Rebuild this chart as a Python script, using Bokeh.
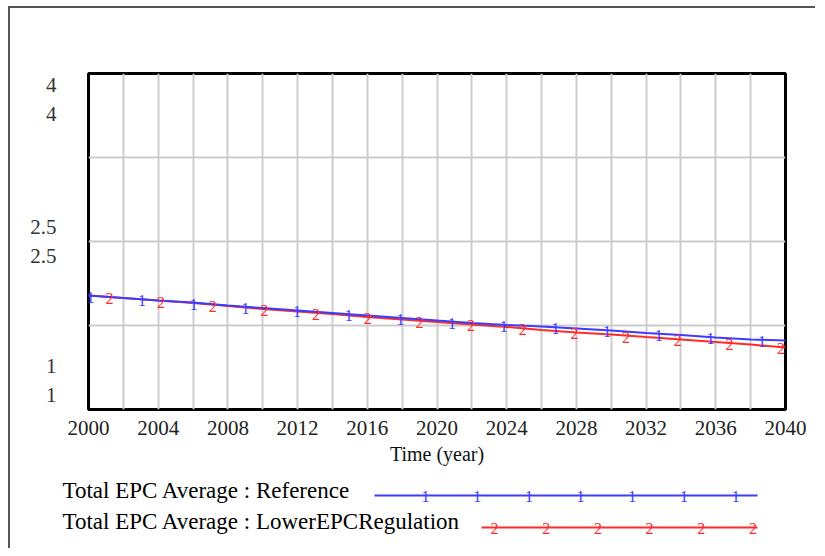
import numpy as np
from bokeh.plotting import figure
from bokeh.layouts import column
from bokeh.models import FixedTicker, Range1d, CustomJSTickFormatter, Label
from bokeh.embed import file_html
from bokeh.resources import INLINE

# ---------------- data ----------------
years = list(range(2000, 2041, 2))
reference = [2.018, 1.996, 1.973, 1.955, 1.929, 1.906, 1.884, 1.862, 1.839, 1.817, 1.795,
             1.772, 1.754, 1.741, 1.723, 1.705, 1.683, 1.665, 1.643, 1.625, 1.616]
lower_epc = [2.018, 1.996, 1.973, 1.951, 1.924, 1.897, 1.875, 1.853, 1.826, 1.804, 1.781,
             1.759, 1.737, 1.710, 1.688, 1.670, 1.647, 1.625, 1.603, 1.580, 1.554]
series_names = ["Total EPC Average : Reference", "Total EPC Average : LowerEPCRegulation"]
marker_texts = ["1", "2"]
x_ticks = list(range(2000, 2041, 4))
x_grid = list(range(2000, 2041, 2))
y_ticks = [1, 2.5, 4]
y_tick_labels = ["1", "2.5", "4"]
y_grid = [1, 1.75, 2.5, 3.25, 4]
x_title = "Time (year)"

# ---------------- style ----------------
BLUE = "#3c3cff"
RED = "#ff2a2a"
FONT = "Liberation Serif"
X0, X1 = 2000, 2040
Y0, Y1 = 1, 4
FRAME_W, FRAME_H = 697, 336
W = 805

p = figure(width=W, height=464, x_range=Range1d(X0, X1), y_range=Range1d(Y0, Y1),
           output_backend="svg", toolbar_location=None,
           min_border_left=78, min_border_right=30, min_border_top=65, min_border_bottom=63)
p.frame_align = False
p.background_fill_color = "white"
p.border_fill_color = "white"
p.outline_line_color = "black"
p.outline_line_width = 3


def dx(px):
    return (X1 - X0) * px / FRAME_W


def dy(px):
    return (Y1 - Y0) * px / FRAME_H


# x axis
p.xaxis.ticker = FixedTicker(ticks=x_ticks)
p.xaxis.axis_line_color = None
p.xaxis.major_tick_line_color = None
p.xaxis.minor_tick_line_color = None
p.xaxis.major_label_text_font = FONT
p.xaxis.major_label_text_font_size = "21px"
p.xaxis.major_label_text_color = "#222222"
p.xaxis.major_label_standoff = 5
p.xaxis.axis_label = x_title
p.xaxis.axis_label_text_font = FONT
p.xaxis.axis_label_text_font_size = "20px"
p.xaxis.axis_label_text_font_style = "normal"
p.xaxis.axis_label_text_color = "#111111"
p.xaxis.axis_label_standoff = 5

# y axis: Vensim style, one label per series, stacked
pair_shift_px = {4: 26, 2.5: 0, 1: -29}   # label pair centre, px below the tick
y_label_pos = [t - dy(pair_shift_px[t]) for t in y_ticks]
y_label_txt = ["\n".join([lab] * len(series_names)) for lab in y_tick_labels]
p.yaxis.ticker = FixedTicker(ticks=y_label_pos)
p.yaxis.formatter = CustomJSTickFormatter(args=dict(labels=y_label_txt),
                                          code="return labels[index];")
p.yaxis.axis_line_color = None
p.yaxis.major_tick_line_color = None
p.yaxis.minor_tick_line_color = None
p.yaxis.major_tick_out = 0
p.yaxis.major_label_standoff = 32
p.yaxis.major_label_text_font = FONT
p.yaxis.major_label_text_font_size = "21px"
p.yaxis.major_label_text_color = "#333333"
p.yaxis.major_label_text_line_height = 1.2
p.yaxis.major_label_text_align = "right"

p.xgrid.ticker = FixedTicker(ticks=x_grid)
p.ygrid.ticker = FixedTicker(ticks=y_grid)
for g in (p.xgrid, p.ygrid):
    g.grid_line_color = "#cccccc"
    g.grid_line_width = 2

# series lines (red underneath blue)
series = [(lower_epc, RED, 1), (reference, BLUE, 0)]
for vals, col, idx in series:
    p.line(years, vals, line_color=col, line_width=2)

# in-plot markers
marker_step = 2.965
starts = {0: 2000.11, 1: 2001.2}
for vals, col, idx in series:
    mx = np.arange(starts[idx], X1, marker_step)
    my = np.interp(mx, years, vals)
    for xx, yy in zip(mx, my):
        p.add_layout(Label(x=float(xx), y=float(yy) - dy(1.5), text=marker_texts[idx],
                           text_font=FONT, text_font_size="16px", text_color=col,
                           text_align="center", text_baseline="alphabetic"))

# ---------------- legend panel (pixel coordinates, y down) ----------------
LH = 76
leg = figure(width=W, height=LH, x_range=Range1d(0, W), y_range=Range1d(LH, 0),
             output_backend="svg", toolbar_location=None,
             min_border_left=0, min_border_right=0, min_border_top=0, min_border_bottom=0)
leg.frame_align = False
leg.axis.visible = False
leg.grid.visible = False
leg.outline_line_color = None
leg.background_fill_color = "white"
leg.border_fill_color = "white"

rows = [
    dict(text_y=18, line_y=23, line_x=(364, 747), mk0=415, n=7, col=BLUE, idx=0),
    dict(text_y=49, line_y=55, line_x=(471, 747), mk0=484, n=6, col=RED, idx=1),
]
for r in rows:
    leg.add_layout(Label(x=52, y=r["text_y"], text=series_names[r["idx"]], text_font=FONT,
                         text_font_size="23px", text_color="#000000", text_align="left",
                         text_baseline="middle"))
    leg.segment([r["line_x"][0]], [r["line_y"]], [r["line_x"][1]], [r["line_y"]],
                line_color=r["col"], line_width=2)
    for k in range(r["n"]):
        leg.add_layout(Label(x=r["mk0"] + k * 51.7, y=r["line_y"] + 1, text=marker_texts[r["idx"]],
                             text_font=FONT, text_font_size="16px", text_color=r["col"],
                             text_align="center", text_baseline="alphabetic"))

layout = column(p, leg, spacing=0)
layout.styles = {"border-top": "2px solid #555555", "border-left": "2px solid #555555",
                 "margin-left": "8px", "margin-top": "6px"}

open("out.html", "w").write(file_html(layout, INLINE))
